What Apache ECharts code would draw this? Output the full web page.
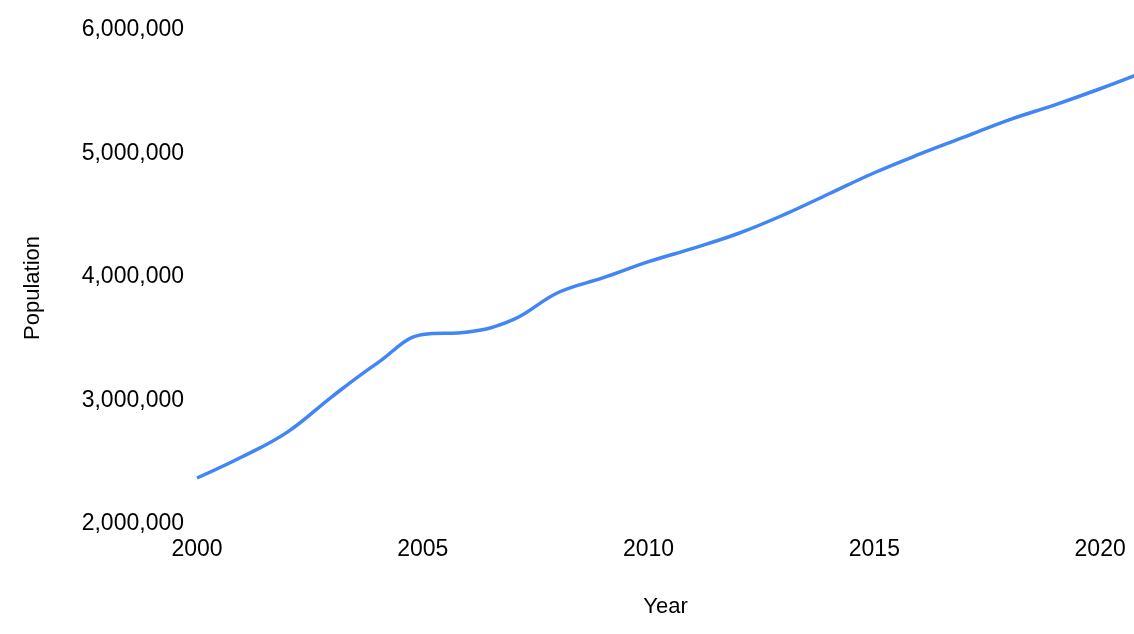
<!DOCTYPE html>
<html>
<head>
<meta charset="utf-8">
<script src="https://cdn.jsdelivr.net/npm/echarts@6/dist/echarts.min.js"></script>
<style>html,body{margin:0;padding:0;background:#fff}#c{width:1134px;height:634px}</style>
</head>
<body>
<div id="c"></div>
<script>
const years = [2000,2001,2002,2003,2004,2005,2006,2007,2008,2009,2010,2011,2012,2013,2014,2015,2016,2017,2018,2019,2020,2021];
const population = [2348000,2520000,2720000,3010000,3280000,3510000,3530000,3630000,3850000,3970000,4100000,4210000,4330000,4480000,4650000,4820000,4970000,5110000,5250000,5370000,5500000,5640000];
const yTicks = [2000000,3000000,4000000,5000000,6000000];

const chart = echarts.init(document.getElementById('c'));
const font = 'Liberation Sans, Arial, Helvetica, sans-serif';
chart.setOption({
  animation: false,
  grid: {left: 197, right: 0, top: 27, bottom: 113},
  xAxis: {
    type: 'value', min: 2000, max: 2020.75, interval: 5,
    name: 'Year', nameLocation: 'middle', nameGap: 75,
    nameTextStyle: {fontFamily: font, fontSize: 22, color: '#000'},
    axisLine: {show: false}, axisTick: {show: false}, splitLine: {show: false},
    axisLabel: {fontFamily: font, fontSize: 23, color: '#000', margin: 17, showMaxLabel: false,
      formatter: v => String(v)}
  },
  yAxis: {
    type: 'value', min: yTicks[0], max: yTicks[yTicks.length-1], interval: 1000000,
    name: 'Population', nameLocation: 'middle', nameGap: 153,
    nameTextStyle: {fontFamily: font, fontSize: 22, color: '#000', padding: [0, 28, 0, 0]},
    axisLine: {show: false}, axisTick: {show: false}, splitLine: {show: false},
    axisLabel: {color: '#000', margin: 13,
      formatter: v => '{v|' + v.toLocaleString('en-US') + '}',
      rich: {v: {fontFamily: font, fontSize: 23, color: '#000', padding: [6, 0, 0, 0]}}}
  },
  series: [{
    type: 'line', smooth: 0.4, symbol: 'none',
    data: years.map((y, i) => [y, population[i]]),
    lineStyle: {color: '#4285F4', width: 3.5}
  }]
});
</script>
</body>
</html>
